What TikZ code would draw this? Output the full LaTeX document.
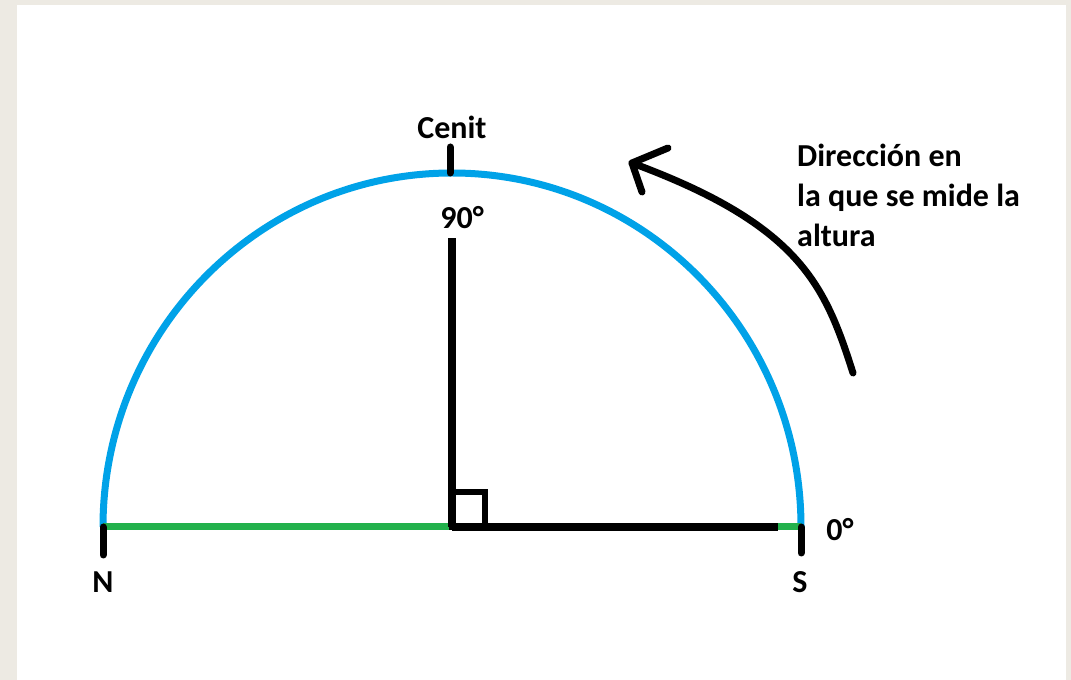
\documentclass[tikz,border=0pt]{standalone}
\usepackage{fontspec}
\setmainfont{Carlito}
\definecolor{cielo}{HTML}{00A2E8}
\definecolor{verde}{HTML}{22B14C}
\definecolor{fondo}{HTML}{EDEAE3}
\tikzset{
    arco/.style={cielo, line width=7pt},
    trazo/.style={black, line width=7.5pt},
    marca/.style={black, line width=7pt, line cap=round},
    texto/.style={font=\bfseries\fontsize{32}{40}\selectfont, inner sep=0pt}
}
\begin{document}
\begin{tikzpicture}[x=1pt, y=1pt]
    % fondo
    \fill[fondo] (0,0) rectangle (1071,680);
    \fill[white] (17,0) rectangle (1066,675);
    \useasboundingbox (0,0) rectangle (1071,680);

    % puntos
    \coordinate (O) at (452,153);
    \coordinate (N) at (103,153);
    \coordinate (S) at (801,153);
    \coordinate (Z) at (450,507);
    \coordinate (F) at (778,153);

    % semicirculo
    \draw[arco] (S) arc (0:180:349 and 354);
    \draw[verde, line width=7pt] (N) -- (O);
    \draw[verde, line width=7pt] (F) -- (S);
    \draw[trazo] (O) -- (F);
    \draw[trazo] (O) -- (452,442) coordinate (A);
    \draw[black, line width=6pt] (O) rectangle (485,188);

    % marcas
    \draw[marca] (N) -- ++(0,-28);
    \draw[marca] (S) -- ++(0,-26);
    \draw[marca] (Z) -- ++(0,26);

    % etiquetas
    \node[texto] (cenit) at (452,553) {Cenit};
    \node[texto] (noventa) at (462,462) {90°};
    \node[texto] (norte) at (103,98) {N};
    \node[texto] (sur) at (800,98) {S};
    \node[texto] (cero) at (840,150) {0°};
    \node[texto, anchor=west, align=left] (dir) at (797,485)
        {Dirección en\\la que se mide la\\altura};

    % flecha
    \coordinate (ini) at (853,307);
    \coordinate (punta) at (632,517);
    \draw[marca] (ini) .. controls (825,395) and (800,455) .. (punta);
    \draw[marca, line join=round] (668,532) -- (punta) -- (642,488);
\end{tikzpicture}
\end{document}
